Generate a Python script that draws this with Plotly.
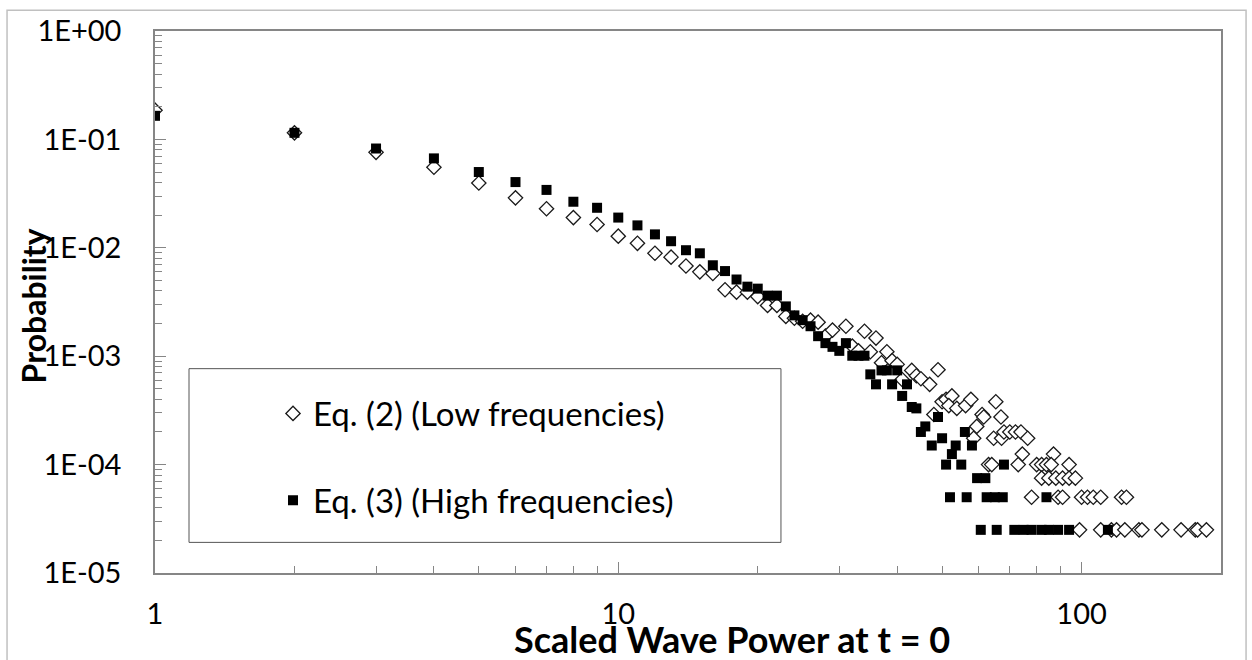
import plotly.graph_objects as go

# ---------------- data ----------------
eq2_x = [1, 2, 3, 4, 5, 6, 7, 8, 9, 10, 11, 12, 13, 14, 15, 16, 17, 18, 19, 20,
         21, 22, 23, 24, 25, 26, 27, 28, 29, 31, 32, 33, 34, 35, 36, 37, 38, 39, 40,
         41, 43, 44, 45, 47, 49, 48, 50, 51, 52.5, 51.7, 53.8, 56.2, 57.7, 59.4, 61,
         61.5, 65.3, 67, 58.5, 64.6, 67.2, 68, 70, 72, 74, 76.5, 74.5, 87, 63, 64, 73,
         80, 82, 84, 86, 94, 82, 85, 88, 91, 94, 97, 78, 89, 91, 100, 103, 106, 110,
         122, 125, 99, 110, 116, 119, 124, 133, 135, 149, 164, 176, 178, 186]
eq2_y = [0.186, 0.115, 0.076, 0.0553, 0.0396, 0.0289, 0.0229, 0.019, 0.0164, 0.0128,
         0.011, 0.0089, 0.0082, 0.0068, 0.006, 0.0058, 0.0041, 0.0039, 0.0039, 0.00355,
         0.00294, 0.00294, 0.00233, 0.00224, 0.0021, 0.00215, 0.00206, 0.00153, 0.00174,
         0.00189, 0.00124, 0.00112, 0.0017, 0.0011, 0.00147, 0.00087, 0.0011, 0.00091,
         0.00084, 0.00061, 0.00074, 0.00066, 0.00062, 0.00055, 0.00075, 0.00029, 0.00038,
         0.0004, 0.00043, 0.00035, 0.00033, 0.00035, 0.0004, 0.000225, 0.00029, 0.000275,
         0.00038, 0.000275, 0.000175, 0.000175, 0.000175, 0.0002, 0.0002, 0.0002, 0.0002,
         0.000175, 0.000125, 0.000125, 0.0001, 0.0001, 0.0001, 0.0001, 0.0001, 0.0001,
         0.0001, 0.0001, 7.5e-5, 7.5e-5, 7.5e-5, 7.5e-5, 7.5e-5, 7.5e-5, 5e-5, 5e-5, 5e-5,
         5e-5, 5e-5, 5e-5, 5e-5, 5e-5, 5e-5, 2.5e-5, 2.5e-5, 2.5e-5, 2.5e-5, 2.5e-5,
         2.5e-5, 2.5e-5, 2.5e-5, 2.5e-5, 2.5e-5, 2.5e-5, 2.5e-5]

eq3_x = [1, 2, 3, 4, 5, 6, 7, 8, 9, 10, 11, 12, 13, 14, 15, 16, 17, 18, 19, 20,
         21, 22, 23, 24, 25, 26, 27, 28, 29, 30, 31, 32, 33, 34, 35, 36, 37, 38, 39,
         40, 41, 42, 43, 44, 45, 46, 47.5, 49, 50, 51, 52, 52.5, 53.5, 55, 56, 56.5, 58,
         59.5, 60.6, 62, 62.4, 65, 65.6, 67.6, 68, 71.6, 75, 78, 82, 85, 84, 89, 94, 114]
eq3_y = [0.165, 0.115, 0.0824, 0.0668, 0.050, 0.0404, 0.0342, 0.0266, 0.0234, 0.019,
         0.0161, 0.0133, 0.0115, 0.0095, 0.0089, 0.0069, 0.0061, 0.0051, 0.00438, 0.0042,
         0.00362, 0.00362, 0.00288, 0.00238, 0.00215, 0.00189, 0.00153, 0.00132, 0.00122,
         0.00112, 0.00132, 0.00101, 0.00101, 0.00101, 0.00068, 0.00055, 0.00074, 0.00074,
         0.00055, 0.00074, 0.00043, 0.00055, 0.00034, 0.00033, 0.0002, 0.000225, 0.00015,
         0.000275, 0.000175, 0.0001, 5e-5, 0.000125, 0.00015, 0.0001, 0.0002, 5e-5, 0.00015,
         7.5e-5, 2.5e-5, 7.5e-5, 5e-5, 5e-5, 2.5e-5, 5e-5, 0.0001, 2.5e-5, 2.5e-5, 2.5e-5,
         2.5e-5, 2.5e-5, 5e-5, 2.5e-5, 2.5e-5, 2.5e-5]

series_names = ["Eq. (2) (Low frequencies)", "Eq. (3) (High frequencies)"]
y_tickvals = [1e-5, 1e-4, 1e-3, 1e-2, 1e-1, 1]
y_ticktext = ["1E-05", "1E-04", "1E-03", "1E-02", "1E-01", "1E+00"]
x_tickvals = [1, 10, 100]
x_ticktext = ["1", "10", "100"]
x_title = "Scaled Wave Power at t = 0"
y_title = "Probability"

# minor tick positions (2..9 within each decade)
x_minor = [m * 10 ** d for d in range(0, 3) for m in range(2, 10) if m * 10 ** d <= 200]
y_minor = [m * 10.0 ** d for d in range(-5, 0) for m in range(2, 10)]

FONT = "Lato"
AXIS_COLOR = "#868686"

fig = go.Figure()
fig.add_trace(go.Scatter(
    x=eq2_x, y=eq2_y, mode="markers", name=series_names[0], legendgroup="a",
    marker=dict(symbol="diamond", size=11, color="white",
                line=dict(color="#1a1a1a", width=1.3)),
))
fig.add_trace(go.Scatter(
    x=eq3_x, y=eq3_y, mode="markers", name=series_names[1], legendgroup="b",
    marker=dict(symbol="square", size=10, color="black",
                line=dict(color="black", width=0)),
))

axis_common = dict(
    showgrid=False, zeroline=False, showline=True, linecolor=AXIS_COLOR,
    linewidth=1.5, mirror=True, ticks="inside", tickcolor=AXIS_COLOR,
    ticklen=11, tickwidth=1,
    tickfont=dict(family=FONT, size=29, color="black"),
)

fig.update_xaxes(type="log", range=[0, 2.30103], tickvals=x_tickvals,
                 ticktext=x_ticktext, ticklabelstandoff=14,
                 minor=dict(tickmode="array", tickvals=x_minor, ticks="inside",
                            ticklen=7, tickcolor=AXIS_COLOR, tickwidth=1,
                            showgrid=False),
                 **axis_common)
fig.update_yaxes(type="log", range=[-5, 0], tickvals=y_tickvals,
                 ticktext=y_ticktext, ticklabelstandoff=26,
                 minor=dict(tickmode="array", tickvals=y_minor, ticks="inside",
                            ticklen=7, tickcolor=AXIS_COLOR, tickwidth=1,
                            showgrid=False),
                 **axis_common)

fig.update_layout(
    width=1252, height=660,
    margin=dict(l=155, r=31, t=24, b=87),
    paper_bgcolor="white", plot_bgcolor="white",
    font=dict(family=FONT, color="black"),
    showlegend=True,
    legend=dict(x=0.1107, y=0.346, xanchor="left", yanchor="top",
                bgcolor="rgba(0,0,0,0)", borderwidth=0,
                font=dict(family=FONT, size=33, color="black"),
                tracegroupgap=41, itemsizing="trace"),
    annotations=[
        dict(text=f"<b>{x_title}</b>", xref="paper", yref="paper",
             x=0.541, y=-0.1657, xanchor="center", yanchor="bottom",
             showarrow=False, font=dict(family=FONT, size=36, color="black")),
        dict(text=f"<b>{y_title}</b>", xref="paper", yref="paper",
             x=-0.1144, y=0.492, xanchor="center", yanchor="middle",
             textangle=-90, showarrow=False,
             font=dict(family=FONT, size=32, color="black")),
    ],
    shapes=[
        # legend box
        dict(type="rect", xref="paper", yref="paper",
             x0=0.0319, x1=0.5872, y0=0.0565, y1=0.377,
             line=dict(color="#555555", width=1), fillcolor="rgba(0,0,0,0)",
             layer="below"),
        # chart-area border
        dict(type="rect", xref="paper", yref="paper",
             x0=-0.1388, x1=1.0235, y0=-0.2, y1=1.0383,
             line=dict(color="#c0c0c0", width=1.5), fillcolor="rgba(0,0,0,0)"),
    ],
)

fig.write_html("out.html")
